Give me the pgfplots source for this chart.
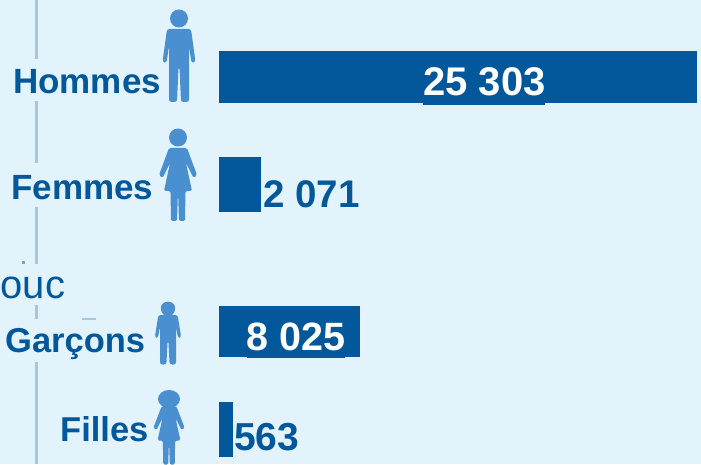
\documentclass[border=0pt]{standalone}
\usepackage{pgfplots}
\pgfplotsset{compat=1.18}
\usepackage{fontspec}
\setmainfont{Liberation Sans}
\definecolor{bg}{HTML}{E2F3FC}
\definecolor{bar}{HTML}{02589A}
\definecolor{fig}{HTML}{4A90D0}
\definecolor{vline}{HTML}{A8C6DC}
\newcommand{\man}[4]{% x, top y, xscale, yscale
  \begin{scope}[shift={(#1pt,{464pt-#2pt})},yscale=-1,x=#3pt,y=#4pt]
  \fill[fig] (0,8.5) ellipse (9 and 9);
  \fill[fig,rounded corners=2.5] (-12,19) -- (12,19) -- (16.5,52) -- (12.5,53) -- (10,36) -- (10,92) -- (2,92) -- (0.5,57) -- (-0.5,57) -- (-2,92) -- (-10,92) -- (-10,36) -- (-12.5,53) -- (-16.5,52) -- cycle;
  \end{scope}}
\newcommand{\woman}[4]{%
  \begin{scope}[shift={(#1pt,{464pt-#2pt})},yscale=-1,x=#3pt,y=#4pt]
  \fill[fig] (0,8.5) circle (9);
  \fill[fig,rounded corners=1.5] (-9,19) -- (9,19) -- (19,46) -- (15.5,49) -- (8,34) -- (14,62) -- (7.5,62) -- (7,92) -- (1,92) -- (0,62) -- (-1,92) -- (-7,92) -- (-7.5,62) -- (-14,62) -- (-8,34) -- (-15.5,49) -- (-19,46) -- cycle;
  \end{scope}}
\begin{document}
\begin{tikzpicture}[x=1pt,y=1pt]
\clip (0,0) rectangle (701,464);
\fill[bg] (0,0) rectangle (701,464);
\begin{axis}[at={(0,0)},anchor=south west,
  scale only axis,width=701pt,height=464pt,
  hide axis,
  xmin=-11592,xmax=25506,
  ymin=0,ymax=464,
  /pgf/bar shift=0pt,
]
% bars: x = value, y = bar centre in picture rows
\addplot[xbar,bar width=52pt,fill=bar,draw=none] coordinates {(25303,387)};
\addplot[xbar,bar width=55pt,fill=bar,draw=none] coordinates {(2223,279.5)};
\addplot[xbar,bar width=51pt,fill=bar,draw=none] coordinates {(7470,132.5)};
\addplot[xbar,bar width=55pt,fill=bar,draw=none] coordinates {(740,34.5)};
\end{axis}
\fill[bar] (423,359) rectangle (545,362);
\fill[bar] (247,106) rectangle (345,108);
\fill[vline] (35,0) rectangle (38,464);
\fill[bg] (8,363) rectangle (160,405);
\fill[bg] (8,257) rectangle (155,301);
\fill[bg] (0,159) rectangle (70,200);
\fill[bg] (4,102) rectangle (146,145);
\man{179}{10}{1}{1}
\woman{178}{129}{1}{1}
\man{168}{302}{.8}{.68}
\fill[fig] (168,464-309) circle (7);
\woman{169}{391}{.82}{.8}
\fill[fig] (169,464-399) ellipse (11 and 9);
\fill[vline!80!black] (22,203) rectangle (25,200);
\fill[vline] (82,146) rectangle (96,144);
\node[anchor=base west,inner sep=0,text=bar,font=\fontsize{35}{35}\selectfont\bfseries] at (13,370) {Hommes};
\node[anchor=base west,inner sep=0,text=bar,font=\fontsize{35}{35}\selectfont\bfseries] at (11,264) {Femmes};
\node[anchor=base west,inner sep=0,text=bar,font=\fontsize{34.5}{34.5}\selectfont\bfseries] at (5,112) {Garçons};
\node[anchor=base west,inner sep=0,text=bar,font=\fontsize{34.5}{34.5}\selectfont\bfseries] at (60,23) {Filles};
\node[anchor=base west,inner sep=0,text=bar,font=\fontsize{40}{40}\selectfont] at (0.5,166) {ouc};
\node[anchor=base west,inner sep=0,text=white,font=\fontsize{40}{40}\selectfont\bfseries] at (423,368) {25 303};
\node[anchor=base west,inner sep=0,text=bar,font=\fontsize{38.5}{38.5}\selectfont\bfseries] at (263,256) {2 071};
\node[anchor=base west,inner sep=0,text=white,font=\fontsize{39.5}{39.5}\selectfont\bfseries] at (246,114) {8 025};
\node[anchor=base west,inner sep=0,text=bar,font=\fontsize{39}{39}\selectfont\bfseries] at (234,14) {563};
\end{tikzpicture}
\end{document}
